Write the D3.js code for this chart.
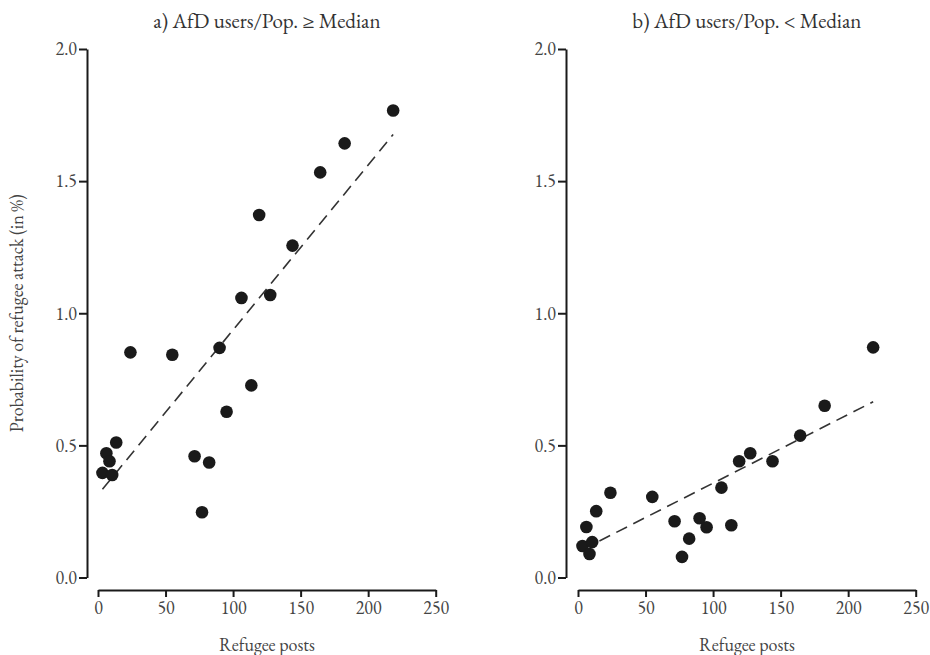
<!DOCTYPE html>
<html>
<head>
<meta charset="utf-8">
<script src="https://cdn.jsdelivr.net/npm/d3@7"></script>
<style>
  body { margin: 0; background: white; }
</style>
</head>
<body>
<div id="chart"></div>
<script>
// refugee posts (shared x values for both panels)
var posts   = [3.3, 6.2, 8.5, 10.5, 13.5, 24, 55, 71.5, 77, 82.3,
               90, 95.2, 106.2, 113.5, 119.3, 127.5, 144, 164.5, 182.6, 218.5];

// probability of attack, high AfD share
var probHigh = [0.396, 0.470, 0.440, 0.388, 0.511, 0.852, 0.843, 0.459, 0.247, 0.435,
                0.869, 0.627, 1.058, 0.727, 1.372, 1.069, 1.256, 1.533, 1.643, 1.767];

// probability of attack, low AfD share
var probLow  = [0.119, 0.191, 0.089, 0.134, 0.251, 0.321, 0.305, 0.213, 0.078, 0.147,
                0.224, 0.190, 0.340, 0.198, 0.440, 0.470, 0.440, 0.537, 0.650, 0.871];

// fitted lines: [intercept, slope]
var fitHigh = [0.313, 0.00624];
var fitLow  = [0.097, 0.00260];

var titles  = ["a) AfD users/Pop. \u2265 Median", "b) AfD users/Pop. < Median"];
var xTicks  = [0, 50, 100, 150, 200, 250];
var yTicks  = [0, 0.5, 1, 1.5, 2];

var width  = 930;
var height = 655;
var font   = "'EB Garamond', 'Liberation Serif', serif";

var svg = d3.select("#chart")
            .append("svg")
            .attr("width", width)
            .attr("height", height);

svg.append("rect")
   .attr("width", width)
   .attr("height", height)
   .style("fill", "white");

var panels = [
  { left: 98,  axisX: 87,  probs: probHigh, fit: fitHigh, title: titles[0] },
  { left: 578, axisX: 566, probs: probLow,  fit: fitLow,  title: titles[1] }
];

var plotW  = 337.7;
var yTop   = 49;
var yBot   = 577.5;
var xAxisY = 590;

panels.forEach(function(p) {
  var x = d3.scaleLinear().domain([0, 250]).range([p.left, p.left + plotW]);
  var y = d3.scaleLinear().domain([0, 2]).range([yBot, yTop]);

  // y axis
  var yAxis = svg.append("g")
                 .attr("transform", "translate(" + p.axisX + ",0)")
                 .call(d3.axisLeft(y).tickValues(yTicks).tickFormat(d3.format(".1f"))
                                      .tickSize(8).tickSizeOuter(0).tickPadding(2));

  // x axis
  var xAxis = svg.append("g")
                 .attr("transform", "translate(0," + xAxisY + ")")
                 .call(d3.axisBottom(x).tickValues(xTicks).tickSize(7).tickSizeOuter(0).tickPadding(4));

  [yAxis, xAxis].forEach(function(a) {
    a.select(".domain").attr("stroke", "#1a1a1a").attr("stroke-width", 2);
    a.selectAll(".tick line").attr("stroke", "#1a1a1a").attr("stroke-width", 2);
    a.selectAll(".tick text")
     .style("font-family", font)
     .style("font-size", "18px")
     .attr("fill", "#444");
  });

  // dashed fit line across the data range
  var xr = d3.extent(posts);
  svg.append("line")
     .attr("x1", x(xr[0]))
     .attr("y1", y(p.fit[0] + p.fit[1] * xr[0]))
     .attr("x2", x(xr[1]))
     .attr("y2", y(p.fit[0] + p.fit[1] * xr[1]))
     .attr("stroke", "#333")
     .attr("stroke-width", 1.6)
     .attr("stroke-dasharray", "12,7");

  // points
  svg.append("g")
     .selectAll("circle")
     .data(posts)
     .enter()
       .append("circle")
       .attr("cx", function(d) { return x(d); })
       .attr("cy", function(d, i) { return y(p.probs[i]); })
       .attr("r", 6.3)
       .style("fill", "#1a1a1a");

  // panel title
  svg.append("text")
     .attr("x", p.left + plotW / 2)
     .attr("y", 28)
     .attr("text-anchor", "middle")
     .style("font-family", font)
     .style("font-size", "21px")
     .style("fill", "#333")
     .text(p.title);

  // x label
  svg.append("text")
     .attr("x", p.left + plotW / 2)
     .attr("y", 651)
     .attr("text-anchor", "middle")
     .style("font-family", font)
     .style("font-size", "18px")
     .style("fill", "#444")
     .text("Refugee posts");
});

// y label on the left panel only
svg.append("text")
   .attr("transform", "translate(23," + (yTop + yBot) / 2 + ") rotate(-90)")
   .attr("text-anchor", "middle")
   .style("font-family", font)
   .style("font-size", "18px")
   .style("fill", "#444")
   .text("Probability of refugee attack (in %)");
</script>
</body>
</html>
